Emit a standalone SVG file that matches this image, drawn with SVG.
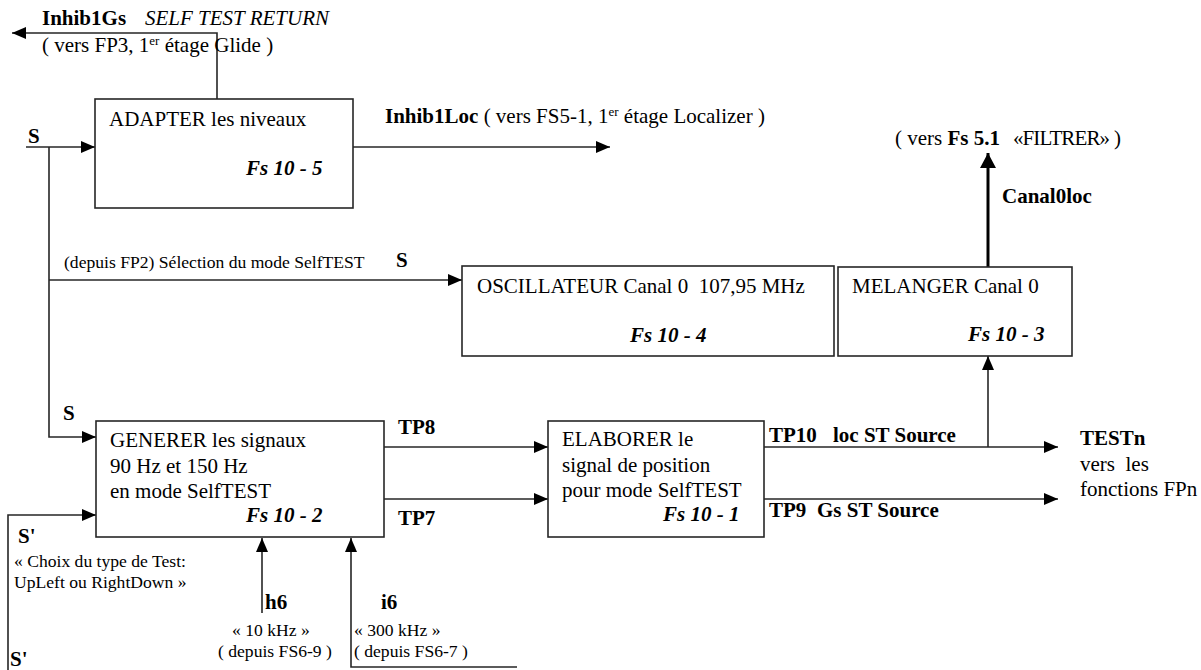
<svg xmlns="http://www.w3.org/2000/svg" width="1201" height="670" viewBox="0 0 1201 670">
<style>
text{font-family:"Liberation Serif","Times New Roman",serif;fill:#000;font-size:21px}
.b{font-weight:bold}
.bi{font-weight:bold;font-style:italic}
.i{font-style:italic}
.sm{font-size:17.6px}
.box{fill:#fff;stroke:#262626;stroke-width:1.6}
.ln{fill:none;stroke:#262626;stroke-width:1.6}
.arr{marker-end:url(#ah)}
.thick{fill:none;stroke:#000;stroke-width:3;marker-end:url(#ahb)}
</style>
<defs>
<marker id="ah" markerUnits="userSpaceOnUse" viewBox="0 0 14 12" markerWidth="14" markerHeight="12" refX="14" refY="6" orient="auto">
<path d="M0,0 L14,6 L0,12 z" fill="#000"/>
</marker>
<marker id="ahb" markerUnits="userSpaceOnUse" viewBox="0 0 15 16" markerWidth="15" markerHeight="16" refX="15" refY="8" orient="auto">
<path d="M0,0 L15,8 L0,16 z" fill="#000"/>
</marker>
</defs>
<rect width="1201" height="670" fill="#fff"/>

<g id="connectors">
<polyline class="ln arr" points="217,99 217,33 12,33"/>
<line class="ln arr" x1="26" y1="147" x2="95" y2="147"/>
<polyline class="ln arr" points="49,147 49,437 96,437"/>
<line class="ln arr" x1="49" y1="280" x2="462" y2="280"/>
<line class="ln arr" x1="353" y1="147" x2="610" y2="147"/>
<line class="ln arr" x1="384" y1="447" x2="548" y2="447"/>
<line class="ln arr" x1="384" y1="499" x2="548" y2="499"/>
<line class="ln arr" x1="764" y1="447" x2="1058" y2="447"/>
<line class="ln arr" x1="764" y1="499" x2="1058" y2="499"/>
<line class="ln arr" x1="988" y1="447" x2="988" y2="356"/>
<line class="thick" x1="988" y1="267" x2="988" y2="153"/>
<polyline class="ln arr" points="8,670 8,515 96,515"/>
<line class="ln arr" x1="262" y1="613" x2="262" y2="538"/>
<polyline class="ln arr" points="517,667 351,667 351,538"/>
</g>

<g id="adapter">
<rect class="box" x="95" y="99" width="258" height="109"/>
<text x="109" y="126">ADAPTER les niveaux</text>
<text class="bi" x="246" y="175">Fs 10 - 5</text>
</g>

<g id="oscillateur">
<rect class="box" x="462" y="266" width="372" height="90"/>
<text x="477" y="293" xml:space="preserve">OSCILLATEUR Canal 0  107,95 MHz</text>
<text class="bi" x="630" y="342">Fs 10 - 4</text>
</g>

<g id="melanger">
<rect class="box" x="838" y="267" width="234" height="89"/>
<text x="852" y="293">MELANGER Canal 0</text>
<text class="bi" x="968" y="341">Fs 10 - 3</text>
</g>

<g id="generer">
<rect class="box" x="96" y="421" width="288" height="116"/>
<text x="110" y="447">GENERER les signaux</text>
<text x="110" y="473">90 Hz et 150 Hz</text>
<text x="110" y="498">en mode SelfTEST</text>
<text class="bi" x="246" y="522">Fs 10 - 2</text>
</g>

<g id="elaborer">
<rect class="box" x="548" y="421" width="216" height="116"/>
<text x="562" y="446">ELABORER le</text>
<text x="562" y="472">signal de position</text>
<text x="562" y="497">pour mode SelfTEST</text>
<text class="bi" x="663" y="521">Fs 10 - 1</text>
</g>

<g id="labels">
<text x="42" y="25"><tspan class="b">Inhib1Gs</tspan></text>
<text class="i" x="145" y="25">SELF TEST RETURN</text>
<text x="42" y="52">( vers FP3, 1<tspan font-size="13" dy="-7">er</tspan><tspan dy="7"> étage Glide )</tspan></text>
<text class="b" x="28" y="143" font-size="25">S</text>
<text x="385" y="123"><tspan class="b">Inhib1Loc</tspan> ( vers FS5-1, 1<tspan font-size="13" dy="-7">er</tspan><tspan dy="7"> étage Localizer )</tspan></text>
<text x="895" y="145">( vers <tspan class="b">Fs 5.1</tspan></text>
<text x="1013" y="145" font-size="15" textLength="97" lengthAdjust="spacing">«FILTRER»</text>
<text x="1114" y="145">)</text>
<text class="b" x="1002" y="203">Canal0loc</text>
<text class="sm" x="64" y="268">(depuis FP2) Sélection du mode SelfTEST</text>
<text class="b" x="396" y="267" font-size="20">S</text>
<text class="b" x="63" y="420" font-size="20">S</text>
<text class="b" x="398" y="434" font-size="20">TP8</text>
<text class="b" x="398" y="525" font-size="20">TP7</text>
<text class="b" x="769" y="442" font-size="20">TP10</text>
<text class="b" x="833" y="442" font-size="20">loc ST Source</text>
<text class="b" x="769" y="517" font-size="20">TP9</text>
<text class="b" x="817" y="517" font-size="20">Gs ST Source</text>
<text class="b" x="1080" y="445">TESTn</text>
<text x="1080" y="471" xml:space="preserve">vers  les</text>
<text x="1080" y="496">fonctions FPn</text>
<text class="b" x="18" y="543" font-size="21">S'</text>
<text class="sm" x="14" y="567">« Choix du type de Test:</text>
<text class="sm" x="14" y="588">UpLeft ou RightDown »</text>
<text class="b" x="10" y="666" font-size="25">S'</text>
<text class="b" x="265" y="609" font-size="20">h6</text>
<text class="sm" x="232" y="636">« 10 kHz »</text>
<text class="sm" x="218" y="657">( depuis FS6-9 )</text>
<text class="b" x="381" y="609" font-size="20">i6</text>
<text class="sm" x="354" y="636">« 300 kHz »</text>
<text class="sm" x="354" y="657">( depuis FS6-7 )</text>
</g>
</svg>
